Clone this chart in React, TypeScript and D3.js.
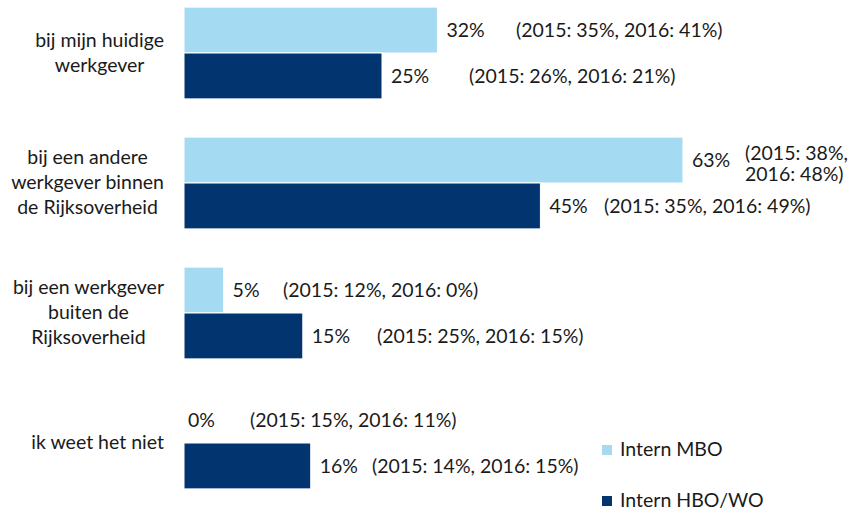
import React, { useEffect, useRef } from "react";
import * as d3 from "d3";

const categories: string[][] = [
  ["bij mijn huidige", "werkgever"],
  ["bij een andere", "werkgever binnen", "de Rijksoverheid"],
  ["bij een werkgever", "buiten de", "Rijksoverheid"],
  ["ik weet het niet"],
];

const seriesNames = ["Intern MBO", "Intern HBO/WO"];
const mboValues = [0.32, 0.63, 0.05, 0];
const hboValues = [0.25, 0.45, 0.15, 0.16];

const mboPrevious = [
  "(2015: 35%, 2016: 41%)",
  "(2015: 38%,\n2016: 48%)",
  "(2015: 12%, 2016: 0%)",
  "(2015: 15%, 2016: 11%)",
];
const hboPrevious = [
  "(2015: 26%, 2016: 21%)",
  "(2015: 35%, 2016: 49%)",
  "(2015: 25%, 2016: 15%)",
  "(2015: 14%, 2016: 15%)",
];

// the annotation boxes were placed by hand in the original
const mboNoteX = [516, 745, 283, 250];
const hboNoteX = [469, 604, 377, 372];

const colors = ["#a5daf3", "#02346f"];
const width = 852;
const height = 509;
const font = "Lato, 'Noto Sans', sans-serif";
const fontSize = 19.5;
const textColor = "#1a1a1a";

const App: React.FC = () => {
  const svgRef = useRef<SVGSVGElement>(null);

  useEffect(() => {
    document.body.style.margin = "0";
    const svg = d3.select(svgRef.current);
    svg.selectAll("*").remove();

    const idx = categories.map((_, i) => String(i));
    const y = d3
      .scaleBand()
      .domain(idx)
      .range([-12, 508])
      .paddingInner(0.294)
      .paddingOuter(0.147);
    const sub = d3.scaleBand().domain(["0", "1"]).range([0, y.bandwidth()]);
    const x = d3.scaleLinear().domain([0, 1]).range([184, 184 + 792]);

    const series = [
      { values: mboValues, notes: mboPrevious, noteX: mboNoteX },
      { values: hboValues, notes: hboPrevious, noteX: hboNoteX },
    ];

    const g = svg
      .append("g")
      .attr("font-family", font)
      .attr("font-size", fontSize)
      .attr("fill", textColor);

    series.forEach((s, si) => {
      const rowY = (i: number) => (y(String(i)) ?? 0) + (sub(String(si)) ?? 0);
      const bh = sub.bandwidth();

      g.selectAll(`.bar-${si}`)
        .data(s.values)
        .join("rect")
        .attr("class", `bar-${si}`)
        .attr("x", x(0))
        .attr("y", (_, i) => rowY(i))
        .attr("width", (d) => x(d) - x(0))
        .attr("height", bh)
        .attr("fill", colors[si])
        .attr("stroke", "#fff")
        .attr("stroke-width", 1);

      g.selectAll(`.val-${si}`)
        .data(s.values)
        .join("text")
        .attr("class", `val-${si}`)
        .attr("x", (d) => x(d) + (d === 0 ? 4 : 9))
        .attr("y", (_, i) => rowY(i) + bh / 2 + 7)
        .text((d) => `${Math.round(d * 100)}%`);

      s.notes.forEach((note, i) => {
        const lines = note.split("\n");
        const cy = rowY(i) + bh / 2;
        const t = g
          .append("text")
          .attr("x", s.noteX[i])
          .attr("y", cy + 7 - (lines.length - 1) * 7.5);
        lines.forEach((line, li) => {
          t.append("tspan")
            .attr("x", s.noteX[i])
            .attr("dy", li === 0 ? 0 : 21)
            .text(line);
        });
      });
    });

    // category labels: lines centred, block right aligned
    const labelRight = 164;
    categories.forEach((lines, i) => {
      const cy = (y(String(i)) ?? 0) + y.bandwidth() / 2;
      const grp = g.append("g");
      const texts = lines.map((line, li) =>
        grp
          .append("text")
          .attr("text-anchor", "middle")
          .attr("y", cy + 6 + (li - (lines.length - 1) / 2) * 25)
          .text(line)
      );
      const maxW = d3.max(texts, (t) => (t.node() as SVGTextElement).getComputedTextLength()) ?? 0;
      texts.forEach((t) => t.attr("x", labelRight - maxW / 2));
    });

    // legend
    const legend = g.append("g").attr("transform", "translate(602, 445)");
    seriesNames.forEach((name, i) => {
      legend
        .append("rect")
        .attr("x", 0)
        .attr("y", i * 51)
        .attr("width", 10)
        .attr("height", 10)
        .attr("fill", colors[i]);
      legend
        .append("text")
        .attr("x", 18)
        .attr("y", i * 51 + 11)
        .text(name);
    });
  }, []);

  return <svg ref={svgRef} width={width} height={height} style={{ display: "block" }} />;
};

export default App;
